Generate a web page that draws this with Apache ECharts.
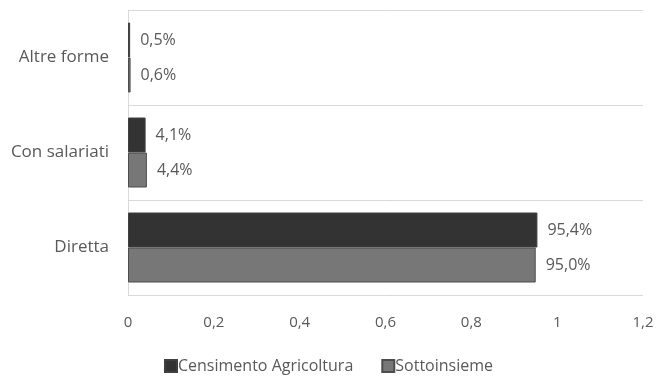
<!DOCTYPE html>
<html>
<head>
<meta charset="utf-8">
<script src="https://cdn.jsdelivr.net/npm/echarts@6/dist/echarts.min.js"></script>
<style>
  html, body { margin: 0; padding: 0; background: #fff; }
  #chart { width: 657px; height: 379px; }
</style>
</head>
<body>
<div id="chart"></div>
<script>
// categorie (dal basso verso l'alto)
var categories = ['Diretta', 'Con salariati', 'Altre forme'];
var censimento = [0.954, 0.041, 0.005];
var sottoinsieme = [0.950, 0.044, 0.006];
var xTicks = [0, 0.2, 0.4, 0.6, 0.8, 1, 1.2];

var fontFam = '"Open Sans", sans-serif';
var txtColor = '#595959';

function pct(v) {
    return (v * 100).toFixed(1).replace('.', ',') + '%';
}

var option = {
    animation: false,
    textStyle: { fontFamily: fontFam },
    grid: { left: 128, right: 14, top: 10, bottom: 84 },
    legend: {
        bottom: 0,
        icon: 'rect',
        itemWidth: 12,
        itemHeight: 12,
        itemGap: 28,
        data: ['Censimento Agricoltura', 'Sottoinsieme'],
        textStyle: { color: txtColor, fontSize: 16, fontFamily: fontFam, padding: [0, 0, 0, -4] }
    },
    xAxis: {
        type: 'value',
        min: xTicks[0],
        max: xTicks[xTicks.length - 1],
        interval: 0.2,
        axisLine: { show: false },
        axisTick: { show: false },
        splitLine: { show: false },
        axisLabel: {
            color: txtColor,
            fontSize: 15,
            margin: 20,
            formatter: function (v) { return String(+v.toFixed(1)).replace('.', ','); }
        }
    },
    yAxis: {
        type: 'category',
        data: categories,
        axisLine: { show: true, lineStyle: { color: '#d9d9d9' } },
        axisTick: { show: false },
        splitLine: { show: true, lineStyle: { color: '#d9d9d9' } },
        axisLabel: { color: txtColor, fontSize: 17, margin: 19 }
    },
    series: [
        {
            name: 'Censimento Agricoltura',
            type: 'bar',
            data: censimento,
            barWidth: 35,
            barGap: '0%',
            itemStyle: { color: '#333333', borderColor: '#404040', borderWidth: 1 },
            label: {
                show: true, position: 'right', distance: 10,
                color: txtColor, fontSize: 16,
                formatter: function (p) { return pct(p.value); }
            }
        },
        {
            name: 'Sottoinsieme',
            type: 'bar',
            data: sottoinsieme,
            barWidth: 35,
            barGap: '0%',
            itemStyle: { color: '#777777', borderColor: '#4d4d4d', borderWidth: 1 },
            label: {
                show: true, position: 'right', distance: 10,
                color: txtColor, fontSize: 16,
                formatter: function (p) { return pct(p.value); }
            }
        }
    ]
};

var myChart = echarts.init(document.getElementById('chart'));
myChart.setOption(option);
</script>
</body>
</html>
